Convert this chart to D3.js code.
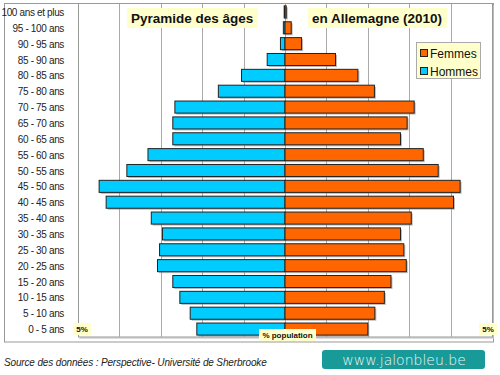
<!DOCTYPE html>
<html>
<head>
<meta charset="utf-8">
<script src="https://cdn.jsdelivr.net/npm/d3@7"></script>
<style>
  body { margin: 0; background: #fff; }
  svg { display: block; font-family: "Liberation Sans", Arial, sans-serif; }
</style>
</head>
<body>
<svg width="500" height="375"></svg>
<script>
// Age groups, top to bottom
const ageGroups = [
  "100 ans et plus", "95 - 100 ans", "90 - 95 ans", "85 - 90 ans", "80 - 85 ans",
  "75 - 80 ans", "70 - 75 ans", "65 - 70 ans", "60 - 65 ans", "55 - 60 ans",
  "50 - 55 ans", "45 - 50 ans", "40 - 45 ans", "35 - 40 ans", "30 - 35 ans",
  "25 - 30 ans", "20 - 25 ans", "15 - 20 ans", "10 - 15 ans", "5 - 10 ans", "0 - 5 ans"
];
// % of population
const hommes = [0.02, 0.04, 0.11, 0.43, 1.05, 1.61, 2.66, 2.71, 2.71, 3.31,
  3.82, 4.49, 4.32, 3.23, 2.96, 3.03, 3.08, 2.71, 2.54, 2.29, 2.13];
const femmes = [0.03, 0.15, 0.40, 1.22, 1.76, 2.16, 3.12, 2.95, 2.79, 3.34,
  3.70, 4.23, 4.07, 3.05, 2.79, 2.87, 2.93, 2.56, 2.40, 2.17, 2.00];
const gridTicks = [-5, -4, -3, -2, -1, 0, 1, 2, 3, 4, 5];

const svg = d3.select("svg");
const colH = "#00ccff", colF = "#ff6600";

const x = d3.scaleLinear().domain([-5, 5]).range([78, 492]);
const y = d3.scaleBand().domain(ageGroups).range([4, 337]).paddingInner(0.24).paddingOuter(0.12);

// outer frame
svg.append("rect").attr("x", 4.5).attr("y", 3.5).attr("width", 489).attr("height", 338.5)
  .attr("fill", "#fff").attr("stroke", "#999");

// plot area
svg.append("rect").attr("x", x(-5) + 1.5).attr("y", 5).attr("width", x(5) - x(-5)).attr("height", 334)
  .attr("fill", "#ddd");
svg.append("rect").attr("x", x(-5) + 0.5).attr("y", 3.5).attr("width", x(5) - x(-5)).attr("height", 333.5)
  .attr("fill", "#fff").attr("stroke", "#999");

// grid
svg.append("g").selectAll("line").data(gridTicks.slice(1, -1)).join("line")
  .attr("x1", d => Math.round(x(d)) + 0.5).attr("x2", d => Math.round(x(d)) + 0.5)
  .attr("y1", 4).attr("y2", 337).attr("stroke", "#aaa");

// bar shadows
const shadow = svg.append("g").attr("fill", "#888").attr("opacity", 0.55);
shadow.selectAll(".sh").data(ageGroups).join("rect")
  .attr("x", (d, i) => x(-hommes[i]) + 1.5).attr("y", d => y(d) + 1.5)
  .attr("width", (d, i) => x(femmes[i]) - x(-hommes[i])).attr("height", y.bandwidth());

// bars
svg.append("g").selectAll("rect").data(ageGroups).join("rect")
  .attr("x", (d, i) => x(-hommes[i])).attr("y", d => y(d))
  .attr("width", (d, i) => x(0) - x(-hommes[i])).attr("height", y.bandwidth())
  .attr("fill", colH).attr("stroke", "#222").attr("stroke-width", 1);
svg.append("g").selectAll("rect").data(ageGroups).join("rect")
  .attr("x", x(0)).attr("y", d => y(d))
  .attr("width", (d, i) => x(femmes[i]) - x(0)).attr("height", y.bandwidth())
  .attr("fill", colF).attr("stroke", "#222").attr("stroke-width", 1);

// row labels
svg.append("g").selectAll("text").data(ageGroups).join("text")
  .attr("x", 64).attr("y", d => y(d) + y.bandwidth() / 2 + 4)
  .attr("text-anchor", "end").attr("font-size", 10).attr("letter-spacing", -0.35).attr("fill", "#222")
  .text(d => d);

// title boxes
function tag(x0, y0, w, h, txt, size, bold, tx, ty, anchor) {
  svg.append("rect").attr("x", x0).attr("y", y0).attr("width", w).attr("height", h).attr("fill", "#ffffcc");
  svg.append("text").attr("x", tx).attr("y", ty).attr("font-size", size)
    .attr("font-weight", bold ? "bold" : "normal").attr("text-anchor", anchor || "start")
    .attr("fill", "#111").text(txt);
}
tag(127, 8, 131, 20, "Pyramide des âges", 13.5, true, 131, 23);
tag(308, 8, 139, 20, "en Allemagne (2010)", 13.5, true, 312, 23);

// axis labels
tag(73, 323, 18, 12, "5%", 8, true, 82, 332, "middle");
tag(479, 323, 18, 12, "5%", 8, true, 488, 332, "middle");
tag(259, 329, 57, 12, "% population", 8, true, 287.5, 338, "middle");

// legend
svg.append("rect").attr("x", 416.5).attr("y", 42.5).attr("width", 64).attr("height", 36)
  .attr("fill", "#ffffcc").attr("stroke", "#aaa");
const legend = [["Femmes", colF], ["Hommes", colH]];
legend.forEach(([name, c], i) => {
  svg.append("rect").attr("x", 420.5).attr("y", 49.5 + i * 18).attr("width", 7).attr("height", 7)
    .attr("fill", c).attr("stroke", "#222");
  svg.append("text").attr("x", 430).attr("y", 57.5 + i * 18).attr("font-size", 12)
    .attr("fill", "#111").text(name);
});

// source
svg.append("text").attr("x", 4).attr("y", 366).attr("font-size", 10).attr("letter-spacing", -0.15)
  .attr("font-style", "italic").attr("fill", "#222")
  .text("Source des données : Perspective- Université de Sherbrooke");

// watermark
svg.append("rect").attr("x", 322).attr("y", 350).attr("width", 163).attr("height", 19).attr("rx", 3)
  .attr("fill", "#189a98");
svg.append("text").attr("x", 404).attr("y", 364.5).attr("text-anchor", "middle")
  .attr("font-family", "'DejaVu Sans', sans-serif").attr("font-size", 14).attr("font-weight", 300)
  .attr("fill", "#e8f6f6").text("www.jalonbleu.be");
</script>
</body>
</html>
